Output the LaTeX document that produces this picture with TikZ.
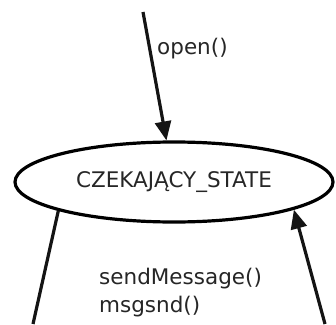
\documentclass[tikz,border=0pt]{standalone}
\usepackage{fontspec}
\setmainfont{DejaVu Sans}
\usetikzlibrary{shapes.geometric,arrows.meta}

\tikzset{
  state/.style={draw=black, line width=3.2pt, ellipse, inner sep=0pt,
    minimum width=318pt, minimum height=80pt, text=black!85,
    font=\fontsize{21.5}{25}\selectfont},
  trans/.style={draw=black!92, line width=3.2pt,
    -{Triangle[length=19pt,width=16pt]}},
  plainline/.style={draw=black!92, line width=3.2pt},
  lbl/.style={text=black!85, inner sep=0pt, font=\fontsize{21.5}{25}\selectfont}
}

\begin{document}
\begin{tikzpicture}[x=1pt,y=1pt]
  \useasboundingbox (0,0) rectangle (336,324);

  % the waiting state
  \node[state] (s) at (174,142) {CZEKAJĄCY\_STATE};

  % incoming open() transition
  \coordinate (openstart) at (143,312);
  \draw[trans] (openstart) -- (s);
  \node[lbl, anchor=base west] (openlbl) at (157,269) {open()};

  % outgoing edge on the left, return edge on the right
  \coordinate (leftend) at (33,0);
  \coordinate (rightstart) at (325,0);
  \draw[plainline] (s.-166) -- (leftend);
  \draw[trans] (rightstart) -- (s.-13);

  % labels between the two edges
  \node[lbl, anchor=base west] (sendlbl) at (99,40) {sendMessage()};
  \node[lbl, anchor=base west] (msglbl) at (99,12) {msgsnd()};
\end{tikzpicture}
\end{document}
